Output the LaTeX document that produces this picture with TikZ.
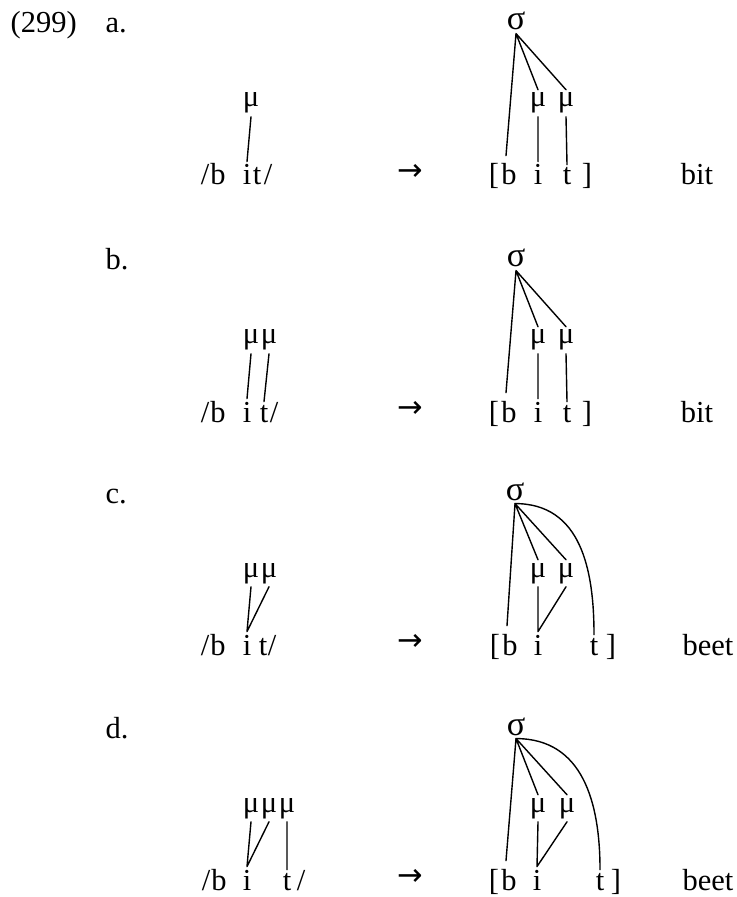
\documentclass[tikz,border=0pt]{standalone}
\usepackage{fontspec}
\setmainfont{Liberation Serif}
\newfontfamily\arrowfont{DejaVu Sans}
\begin{document}
\begin{tikzpicture}[x=0.3934pt, y=-0.3934pt, font=\fontsize{12}{14}\selectfont, line join=round, line cap=round, line width=0.55pt,
	seg/.style={anchor=base, inner sep=1pt},
	syl/.style={anchor=base, inner sep=1pt, font=\fontsize{13.5}{14}\selectfont},
	arr/.style={font=\arrowfont\fontsize{12}{14}\selectfont},
	lbl/.style={anchor=base west, inner sep=0pt}]
	\useasboundingbox (0,0) rectangle (737,897);
	\node[lbl] (num) at (10,33) {(299)};
	% a.
	\begin{scope}[shift={(0,185)}]
		\node[lbl] (la) at (105,-152) {a.};
		\foreach \n/\x/\t in {a1/205/{/},ab/218/b,ai/247/i,at/257/t,a2/268/{/},ao/494/[,aB/509/b,aI/538/i,aT/567/t,ac/587/]}
		\node[seg] (\n) at (\x,0) {\t};
		\node[seg] (am) at (251,-78) {μ};
		\node[seg] (amA) at (538,-78) {μ};
		\node[seg] (amB) at (566,-78) {μ};
		\node[syl] (as) at (516,-155) {σ};
		\node[arr] (aar) at (410,-13) {→};
		\node[seg] (ag) at (697,0) {bit};
		\draw (am.south)--(ai.north);
		\draw (as.south)--([shift={(-3,-5)}]aB.north) (as.south)--(amA.north) (as.south)--(amB.north);
		\draw (amA.south)--(aI.north) (amB.south)--(aT.north);
	\end{scope}
	% b.
	\begin{scope}[shift={(0,422)}]
		\node[lbl] (lb) at (105,-152) {b.};
		\foreach \n/\x/\t in {b1/205/{/},bb/218/b,bi/247/i,bt/264/t,b2/274/{/},bo/494/[,bB/509/b,bI/538/i,bT/567/t,bc/587/]}
		\node[seg] (\n) at (\x,0) {\t};
		\node[seg] (bm1) at (251,-78) {μ};
		\node[seg] (bm2) at (269,-78) {μ};
		\node[seg] (bmA) at (538,-78) {μ};
		\node[seg] (bmB) at (566,-78) {μ};
		\node[syl] (bs) at (516,-155) {σ};
		\node[arr] (bar) at (410,-13) {→};
		\node[seg] (bg) at (697,0) {bit};
		\draw (bm1.south)--(bi.north) (bm2.south)--(bt.north);
		\draw (bs.south)--([shift={(-3,-5)}]bB.north) (bs.south)--(bmA.north) (bs.south)--(bmB.north);
		\draw (bmA.south)--(bI.north) (bmB.south)--(bT.north);
	\end{scope}
	% c.
	\begin{scope}[shift={(0,655)}]
		\node[lbl] (lc) at (105,-152) {c.};
		\foreach \n/\x/\t in {c1/205/{/},cb/218/b,ci/247/i,ct/263/t,c2/272/{/},co/495/[,cB/510/b,cI/538/i,cT/594/t,cc/611/]}
		\node[seg] (\n) at (\x,0) {\t};
		\node[seg] (cm1) at (251,-78) {μ};
		\node[seg] (cm2) at (269,-78) {μ};
		\node[seg] (cmA) at (538,-78) {μ};
		\node[seg] (cmB) at (566,-78) {μ};
		\node[syl] (cs) at (515,-155) {σ};
		\node[arr] (car) at (410,-13) {→};
		\node[seg] (cg) at (708,0) {beet};
		\draw (cm1.south)--(ci.north) (cm2.south)--(ci.north);
		\draw (cs.south)--([shift={(-3,-5)}]cB.north) (cs.south)--(cmA.north) (cs.south)--(cmB.north);
		\draw (cs.south) to[out=0, in=90, looseness=1.1] (cT.north);
		\draw (cmA.south)--(cI.north) (cmB.south)--(cI.north);
	\end{scope}
	% d.
	\begin{scope}[shift={(0,890)}]
		\node[lbl] (ld) at (105,-152) {d.};
		\foreach \n/\x/\t in {d1/206/{/},db/219/b,di/247/i,dt/287/t,d2/301/{/},do/494/[,dB/509/b,dI/537/i,dT/600/t,dc/616/]}
		\node[seg] (\n) at (\x,0) {\t};
		\node[seg] (dm1) at (251,-78) {μ};
		\node[seg] (dm2) at (269,-78) {μ};
		\node[seg] (dm3) at (287,-78) {μ};
		\node[seg] (dmA) at (538,-78) {μ};
		\node[seg] (dmB) at (567,-78) {μ};
		\node[syl] (ds) at (516,-155) {σ};
		\node[arr] (dar) at (410,-13) {→};
		\node[seg] (dg) at (708,0) {beet};
		\draw (dm1.south)--(di.north) (dm2.south)--(di.north) (dm3.south)--(dt.north);
		\draw (ds.south)--([shift={(-3,-5)}]dB.north) (ds.south)--(dmA.north) (ds.south)--(dmB.north);
		\draw (ds.south) to[out=0, in=90, looseness=1.1] (dT.north);
		\draw (dmA.south)--(dI.north) (dmB.south)--(dI.north);
	\end{scope}
\end{tikzpicture}
\end{document}
